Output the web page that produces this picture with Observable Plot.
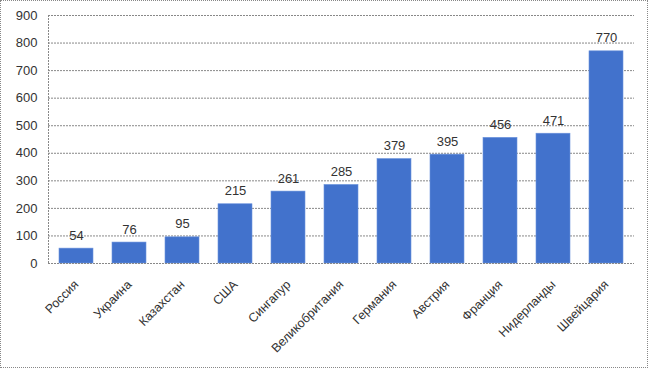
<!DOCTYPE html>
<html><head><meta charset="utf-8">
<script src="https://cdn.jsdelivr.net/npm/d3@7"></script>
<script src="https://cdn.jsdelivr.net/npm/@observablehq/plot@0.6"></script>
<style>
body{margin:0;background:#fff;}
#wrap{position:relative;width:646px;height:366px;border:1px dotted #888;overflow:hidden;}
</style>
</head><body><div id="wrap"></div>
<script>
const countries = ["Россия","Украина","Казахстан","США","Сингапур","Великобритания","Германия","Австрия","Франция","Нидерланды","Швейцария"];
const values = [54,76,95,215,261,285,379,395,456,471,770];
const yTicks = [0,100,200,300,400,500,600,700,800,900];
const data = countries.map((c,i)=>({country:c, value:values[i]}));
const font = "'Liberation Sans', Arial, sans-serif";
const chart = Plot.plot({
  width: 646, height: 366,
  marginLeft: 47, marginRight: 13, marginTop: 14, marginBottom: 104,
  style: {fontFamily: font, fontSize: "12px", color: "#333", background: "#fff"},
  x: {domain: countries, paddingInner: 0.36, paddingOuter: 0.18, label: null},
  y: {domain: [0,900], ticks: yTicks, label: null},
  marks: [
    Plot.gridY(yTicks, {stroke: "#888", strokeOpacity: 1, strokeDasharray: "2,1"}),
    Plot.axisY({ticks: yTicks, tickSize: 0, tickPadding: 11, fontSize: 13, fill:"#333"}),
    Plot.axisX({tickSize: 0, tickPadding: 19, tickRotate: -45, fontSize: 12.5, fill:"#333"}),
    Plot.barY(data, {x: "country", y: "value", fill: "#4272cc", stroke:"#6b93dc", strokeWidth:0.6}),
    Plot.text(data, {x: "country", y: "value", text: d => String(d.value), dy: -13, fontSize: 13, fill: "#333"}),
    Plot.ruleY([0], {stroke:"#888", strokeDasharray:"2,1"})
  ]
});
// left axis line (value-axis domain line)
const ys = chart.scale("y");
const svg = d3.select(chart);
svg.append("line")
  .attr("x1", 47.5).attr("x2", 47.5)
  .attr("y1", ys.apply(ys.domain[0])).attr("y2", ys.apply(ys.domain[1]))
  .attr("stroke", "#888").attr("stroke-dasharray", "2,1");
document.getElementById("wrap").appendChild(chart);
</script>
</body></html>
